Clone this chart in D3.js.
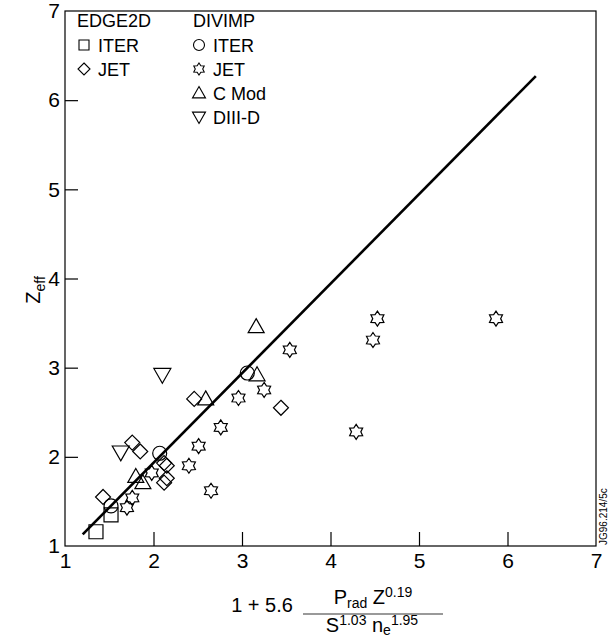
<!DOCTYPE html>
<html><head><meta charset="utf-8">
<script src="https://cdn.jsdelivr.net/npm/d3@7"></script>
<style>
html,body{margin:0;padding:0;background:#fff;}
text{font-family:"Liberation Sans",Arial,Helvetica,sans-serif;fill:#000;}
</style></head>
<body>
<svg id="c" width="611" height="639"></svg>
<script>
// ---- data ----
const xTicks = [1, 2, 3, 4, 5, 6, 7];
const yTicks = [1, 2, 3, 4, 5, 6, 7];
const edgeIterX = [1.35, 1.52];
const edgeIterY = [1.16, 1.35];
const edgeJetX = [1.43, 1.76, 1.85, 2.12, 2.15, 2.15, 2.12, 2.46, 3.44];
const edgeJetY = [1.55, 2.16, 2.06, 1.93, 1.90, 1.76, 1.71, 2.65, 2.55];
const divIterX = [1.52, 2.07, 3.06];
const divIterY = [1.45, 2.04, 2.94];
const divJetX = [1.70, 1.76, 1.98, 2.40, 2.51, 2.76, 2.65, 2.96, 3.25, 3.54, 4.53, 4.48, 5.87, 4.29];
const divJetY = [1.43, 1.54, 1.82, 1.90, 2.12, 2.33, 1.62, 2.66, 2.75, 3.20, 3.55, 3.31, 3.55, 2.28];
const cmodX = [1.80, 1.88, 2.59, 3.17, 3.16];
const cmodY = [1.78, 1.71, 2.65, 2.92, 3.46];
const diiidX = [1.63, 2.10];
const diiidY = [2.05, 2.92];
const fitX = [1.2, 6.32];
const fitY = [1.13, 6.27];

// ---- layout ----
const svg = d3.select("#c");
const L = 65, R = 596, T = 11, B = 546;
const x = d3.scaleLinear().domain([1, 7]).range([L, R]);
const y = d3.scaleLinear().domain([1, 7]).range([B, T]);

// frame
svg.append("rect").attr("x", L).attr("y", T).attr("width", R - L).attr("height", B - T)
  .attr("fill", "none").attr("stroke", "#000").attr("stroke-width", 1.2);

// axes with inward ticks
const xAxis = d3.axisBottom(x).tickValues(xTicks).tickFormat(d3.format("d")).tickSize(-14).tickPadding(7);
const gx = svg.append("g").attr("transform", `translate(0,${B})`).call(xAxis);
const yAxis = d3.axisLeft(y).tickValues(yTicks).tickFormat(d3.format("d")).tickSize(-13).tickPadding(7);
const gy = svg.append("g").attr("transform", `translate(${L},0)`).call(yAxis);
[gx, gy].forEach(g => {
  g.attr("font-size", 21).attr("font-family", '"Liberation Sans",Arial,sans-serif');
  g.select(".domain").remove();
  g.selectAll(".tick line").attr("stroke", "#000").attr("stroke-width", 1.2)
    .filter(d => d === 1 || d === 7).remove();
  g.selectAll(".tick text").attr("fill", "#000");
});
gy.selectAll(".tick text").attr("dx", 2);

// fit line
svg.append("line")
  .attr("x1", x(fitX[0])).attr("y1", y(fitY[0]))
  .attr("x2", x(fitX[1])).attr("y2", y(fitY[1]))
  .attr("stroke", "#000").attr("stroke-width", 2.6);

// symbols
function starPath(ro, ri) {
  const pts = [];
  for (let i = 0; i < 12; i++) {
    const a = -Math.PI / 2 + i * Math.PI / 6;
    const r = i % 2 === 0 ? ro : ri;
    pts.push([r * Math.cos(a), r * Math.sin(a)]);
  }
  return "M" + pts.map(p => p[0].toFixed(2) + "," + p[1].toFixed(2)).join("L") + "Z";
}
const shapes = {
  square: s => { const h = s / 2; return `M${-h},${-h}H${h}V${h}H${-h}Z`; },
  diamond: s => { const h = s / 2; return `M0,${-h}L${h},0L0,${h}L${-h},0Z`; },
  circle: s => { const r = s / 2; return `M${r},0A${r},${r} 0 1,1 ${-r},0A${r},${r} 0 1,1 ${r},0Z`; },
  star: s => starPath(s / 2, s / 2 * 0.62),
  up: s => { const h = s / 2; return `M0,${-h}L${h},${h * 0.75}L${-h},${h * 0.75}Z`; },
  down: s => { const h = s / 2; return `M0,${h}L${h},${-h * 0.75}L${-h},${-h * 0.75}Z`; }
};

const series = [
  { xs: edgeIterX, ys: edgeIterY, shape: "square", size: 14 },
  { xs: edgeJetX, ys: edgeJetY, shape: "diamond", size: 15 },
  { xs: divIterX, ys: divIterY, shape: "circle", size: 14 },
  { xs: divJetX, ys: divJetY, shape: "star", size: 15 },
  { xs: cmodX, ys: cmodY, shape: "up", size: 16 },
  { xs: diiidX, ys: diiidY, shape: "down", size: 17 }
];
series.forEach(s => {
  svg.append("g").selectAll("path").data(s.xs.map((v, i) => [v, s.ys[i]])).join("path")
    .attr("transform", d => `translate(${x(d[0])},${y(d[1])})`)
    .attr("d", shapes[s.shape](s.size))
    .attr("fill", "none").attr("stroke", "#000").attr("stroke-width", 1.2);
});

// legend
const lg = svg.append("g");
const fs = 18;
lg.append("text").attr("x", 77).attr("y", 27).attr("font-size", fs).text("EDGE2D");
lg.append("text").attr("x", 193).attr("y", 27).attr("font-size", fs).text("DIVIMP");
const legItems = [
  { cx: 84, cy: 45, shape: "square", size: 10, label: "ITER" },
  { cx: 84, cy: 69, shape: "diamond", size: 12, label: "JET" },
  { cx: 199, cy: 45, shape: "circle", size: 11, label: "ITER" },
  { cx: 199, cy: 69, shape: "star", size: 12, label: "JET" },
  { cx: 199, cy: 93, shape: "up", size: 13, label: "C Mod" },
  { cx: 199, cy: 117, shape: "down", size: 13, label: "DIII-D" }
];
legItems.forEach(it => {
  lg.append("path").attr("transform", `translate(${it.cx},${it.cy})`)
    .attr("d", shapes[it.shape](it.size)).attr("fill", "none").attr("stroke", "#000").attr("stroke-width", 1.1);
  lg.append("text").attr("x", it.cx + 14).attr("y", it.cy + 7).attr("font-size", fs).text(it.label);
});

// y label
const yl = svg.append("text").attr("transform", "translate(40,290) rotate(-90)")
  .attr("text-anchor", "middle").attr("font-size", 20);
yl.append("tspan").text("Z");
yl.append("tspan").attr("font-size", 14).attr("dy", 5).text("eff");

// x label formula
svg.append("text").attr("x", 262).attr("y", 612).attr("text-anchor", "middle").attr("font-size", 20).text("1 + 5.6");
svg.append("line").attr("x1", 303).attr("x2", 443).attr("y1", 614).attr("y2", 614)
  .attr("stroke", "#777").attr("stroke-width", 1.5);
const num = svg.append("text").attr("x", 373).attr("y", 604).attr("text-anchor", "middle").attr("font-size", 20);
num.append("tspan").text("P");
num.append("tspan").attr("font-size", 14).attr("dy", 4).text("rad");
num.append("tspan").attr("dy", -4).text(" Z");
num.append("tspan").attr("font-size", 14).attr("dy", -7).text("0.19");
const den = svg.append("text").attr("x", 372).attr("y", 632).attr("text-anchor", "middle").attr("font-size", 20);
den.append("tspan").text("S");
den.append("tspan").attr("font-size", 14).attr("dy", -7).text("1.03");
den.append("tspan").attr("dy", 7).text(" n");
den.append("tspan").attr("font-size", 14).attr("dy", 3).text("e");
den.append("tspan").attr("font-size", 14).attr("dy", -10).text("1.95");

// side code
svg.append("text").attr("transform", "translate(607,545) rotate(-90)")
  .attr("font-size", 10).text("JG96.214/5c");
</script>
</body></html>
